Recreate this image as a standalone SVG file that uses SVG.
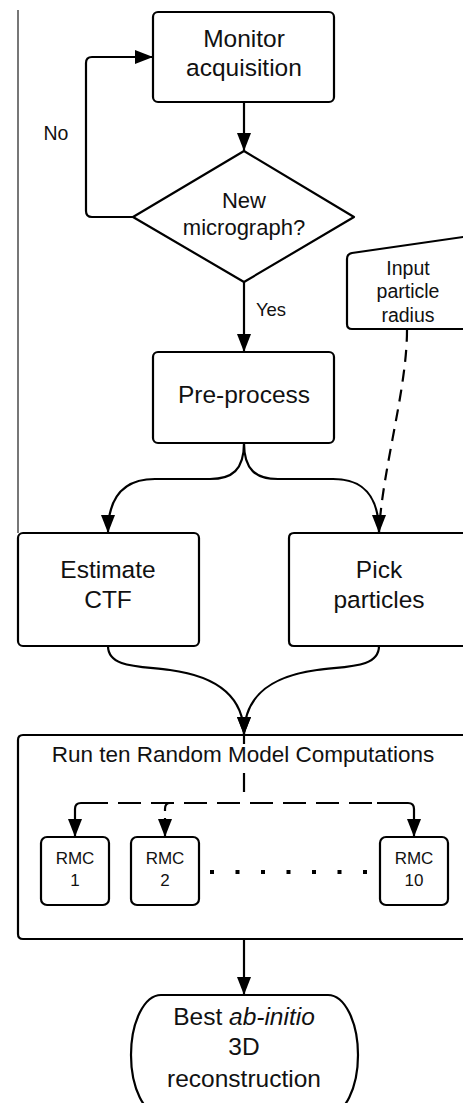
<svg xmlns="http://www.w3.org/2000/svg" width="463" height="1103" viewBox="0 0 463 1103">
<defs>
<marker id="ah" markerUnits="userSpaceOnUse" markerWidth="20" markerHeight="16" refX="18" refY="7" orient="auto">
<path d="M0,0 L18,7 L0,14 z" fill="#000"/>
</marker>
<style>
.box{fill:#fff;stroke:#000;stroke-width:2.2}
.ln{fill:none;stroke:#000;stroke-width:2.2}
.dash{fill:none;stroke:#000;stroke-width:2.2;stroke-dasharray:12 8}
.hd{fill:none;stroke:#000;stroke-width:2.2;stroke-dasharray:23 10}
text{font-family:"Liberation Sans",Arial,sans-serif;fill:#111;text-anchor:middle}
.t25{font-size:24.5px}
.t22{font-size:22px}
.t19{font-size:19.5px}
.t18{font-size:18.5px}
.t17{font-size:17px}
.trun{font-size:22.5px}
</style>
</defs>
<rect width="463" height="1103" fill="#fff"/>
<line x1="18" y1="10" x2="18" y2="533" stroke="#555" stroke-width="1.6"/>

<g id="connectors">
<line class="ln" x1="244" y1="102" x2="244" y2="151" marker-end="url(#ah)"/>
<path class="ln" d="M133,217 H92 Q86,217 86,211 V63 Q86,57 92,57 H153" marker-end="url(#ah)"/>
<line class="ln" x1="244" y1="282" x2="244" y2="352" marker-end="url(#ah)"/>
<path class="ln" d="M244,443 C244,470 232,479 210,479 L155,479 C125,479 108,495 108,533" marker-end="url(#ah)"/>
<path class="ln" d="M244,443 C244,470 256,479 278,479 L333,479 C363,479 379,495 379,533" marker-end="url(#ah)"/>
<path class="dash" d="M407,330 C407,390 382,470 379,533"/>
<path class="ln" d="M108,646 C108,668 140,666 170,670 C222,677 244,700 244,735" marker-end="url(#ah)"/>
<path class="ln" d="M379,646 C379,668 347,666 317,670 C265,677 244,700 244,735" marker-end="url(#ah)"/>
<line class="ln" x1="244" y1="735" x2="244" y2="744"/>
<line class="ln" x1="244" y1="773" x2="244" y2="792"/>
<path class="ln" d="M108,803 H81 Q75,803 75,809 V837" marker-end="url(#ah)"/>
<path class="hd" d="M118,803 H396"/>
<path class="ln" d="M377,803 H408 Q414,803 414,809 V837" marker-end="url(#ah)"/>
<path class="ln" d="M170,803 Q165,803 165,809 V811"/>
<line class="ln" x1="165" y1="818" x2="165" y2="837" marker-end="url(#ah)"/>
<line class="ln" x1="244" y1="939" x2="244" y2="995" marker-end="url(#ah)"/>
</g>

<g id="label-no"><text class="t19" x="56" y="140">No</text></g>
<g id="label-yes"><text class="t18" x="271" y="316">Yes</text></g>

<g id="monitor">
<rect class="box" x="153" y="12" width="181" height="90" rx="5"/>
<text class="t25" x="244" y="47">Monitor</text>
<text class="t25" x="244" y="76">acquisition</text>
</g>

<g id="decision">
<path class="box" d="M244,151 L354,217 L244,282 L133,217 z" stroke-linejoin="round"/>
<text class="t22" x="244" y="208">New</text>
<text class="t22" x="244" y="235">micrograph?</text>
</g>

<g id="input">
<path class="box" d="M470,236 L352,253 Q347,254 347,259 V324 Q347,329 352,329 H470"/>
<text class="t19" x="408" y="275">Input</text>
<text class="t19" x="408" y="298">particle</text>
<text class="t19" x="408" y="322">radius</text>
</g>

<g id="preprocess">
<rect class="box" x="153" y="352" width="181" height="91" rx="5"/>
<text class="t25" x="244" y="403">Pre-process</text>
</g>

<g id="ctf">
<rect class="box" x="18" y="533" width="181" height="113" rx="5"/>
<text class="t25" x="108" y="578">Estimate</text>
<text class="t25" x="108" y="608">CTF</text>
</g>

<g id="pick">
<path class="box" d="M470,533 H294 Q289,533 289,538 V641 Q289,646 294,646 H470"/>
<text class="t25" x="379" y="578">Pick</text>
<text class="t25" x="379" y="608">particles</text>
</g>

<g id="rmc-group">
<path class="ln" d="M470,735 H23 Q18,735 18,740 V934 Q18,939 23,939 H470"/>
<text class="trun" x="243" y="762">Run ten Random Model Computations</text>
</g>

<g id="rmc1">
<rect class="box" x="41" y="837" width="68" height="68" rx="6"/>
<text class="t17" x="75" y="864">RMC</text>
<text class="t17" x="75" y="886">1</text>
</g>
<g id="rmc2">
<rect class="box" x="131" y="837" width="68" height="68" rx="6"/>
<text class="t17" x="165" y="864">RMC</text>
<text class="t17" x="165" y="886">2</text>
</g>
<g id="dots" fill="#000">
<rect x="210" y="870" width="4" height="4"/>
<rect x="235.5" y="870" width="4" height="4"/>
<rect x="261" y="870" width="4" height="4"/>
<rect x="286.5" y="870" width="4" height="4"/>
<rect x="312" y="870" width="4" height="4"/>
<rect x="337.5" y="870" width="4" height="4"/>
<rect x="363" y="870" width="4" height="4"/>
</g>
<g id="rmc10">
<rect class="box" x="380" y="837" width="68" height="68" rx="6"/>
<text class="t17" x="414" y="864">RMC</text>
<text class="t17" x="414" y="886">10</text>
</g>

<g id="best">
<rect class="box" x="131" y="995" width="227" height="120" rx="30" ry="60"/>
<text class="t25" x="244" y="1025">Best <tspan font-style="italic">ab-initio</tspan></text>
<text class="t25" x="244" y="1055">3D</text>
<text class="t25" x="244" y="1087">reconstruction</text>
</g>
</svg>
